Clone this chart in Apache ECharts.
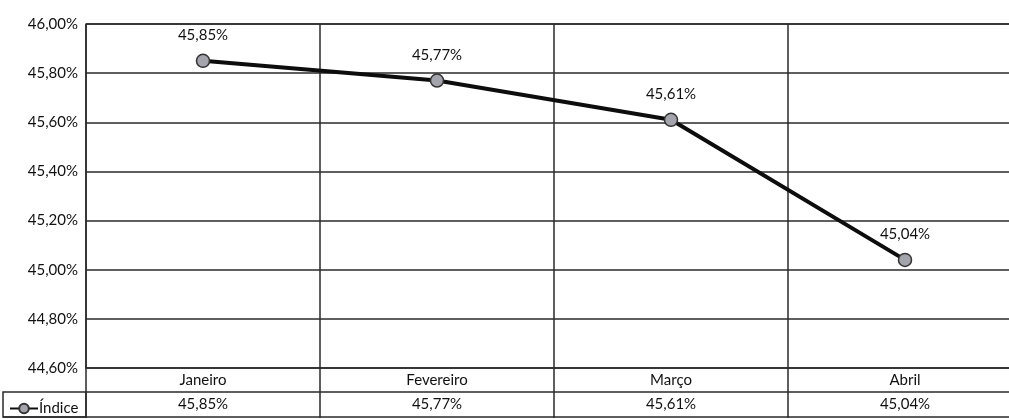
<!DOCTYPE html>
<html><head><meta charset="utf-8">
<script src="https://cdn.jsdelivr.net/npm/echarts@6/dist/echarts.min.js"></script>
<style>html,body{margin:0;padding:0;background:#fff}#c{width:1009px;height:419px}</style>
</head><body><div id="c"></div>
<script>
const categories = ['Janeiro', 'Fevereiro', 'Março', 'Abril'];
const indice = [45.85, 45.77, 45.61, 45.04];
const seriesName = 'Índice';
const yMin = 44.6, yMax = 46.0, yStep = 0.2;

const fmt = v => v.toFixed(2).replace('.', ',') + '%';
const FONT = 'Lato, "Open Sans", sans-serif';
const chart = echarts.init(document.getElementById('c'));
chart.setOption({
  animation: false,
  backgroundColor: '#fff',
  textStyle: { fontFamily: FONT },
  grid: { left: 86, top: 24, width: 936, height: 344, show: false, outerBoundsMode: 'none', containLabel: false },
  legend: {
    data: [seriesName], left: 4, top: 396, itemWidth: 28, itemHeight: 12, itemGap: 2,
    textStyle: { fontSize: 15, color: '#111', fontFamily: FONT, padding: [0, 0, 0, -4] }
  },
  xAxis: [{
    type: 'category', data: categories, boundaryGap: true,
    axisLine: { show: true, lineStyle: { color: '#2a2a2a', width: 1.5 } },
    axisTick: { show: true, length: 50, lineStyle: { color: '#2a2a2a', width: 1.5 } },
    splitLine: { show: true, lineStyle: { color: '#2a2a2a', width: 1.5 } },
    axisLabel: { margin: 5, fontSize: 15, color: '#111', fontFamily: FONT }
  }, {
    type: 'category', data: categories, position: 'bottom', offset: 24, boundaryGap: true,
    axisLine: { show: true, lineStyle: { color: '#2a2a2a', width: 1.5 } },
    axisTick: { show: false },
    axisLabel: { margin: 5, fontSize: 15, color: '#111', fontFamily: FONT,
      formatter: (v, i) => fmt(indice[i]) }
  }],
  yAxis: {
    type: 'value', min: yMin, max: yMax, interval: yStep,
    axisLine: { show: true, lineStyle: { color: '#2a2a2a', width: 1.5 } },
    axisTick: { show: false },
    splitLine: { show: true, lineStyle: { color: '#2a2a2a', width: 1.5 } },
    axisLabel: { margin: 8, fontSize: 15, color: '#111', fontFamily: FONT, formatter: v => fmt(v) }
  },
  graphic: [
    { type: 'rect', shape: { x: 3, y: 392, width: 83, height: 25 },
      style: { fill: 'none', stroke: '#2a2a2a', lineWidth: 1.5 } },
    { type: 'line', shape: { x1: 3, y1: 417, x2: 1009, y2: 417 },
      style: { stroke: '#2a2a2a', lineWidth: 1.5 } },
    { type: 'line', shape: { x1: 86, y1: 24, x2: 1009, y2: 24 },
      style: { stroke: '#2a2a2a', lineWidth: 1.5 } }
  ],
  series: [{
    name: seriesName, type: 'line', data: indice,
    symbol: 'circle', symbolSize: 13,
    lineStyle: { color: '#0d0d0d', width: 4 },
    itemStyle: { color: '#a4a4ad', borderColor: '#333', borderWidth: 1.5 },
    label: { show: true, position: 'top', distance: 11, fontSize: 15, color: '#111',
      fontFamily: FONT, formatter: p => fmt(p.value) }
  }]
});
</script></body></html>
